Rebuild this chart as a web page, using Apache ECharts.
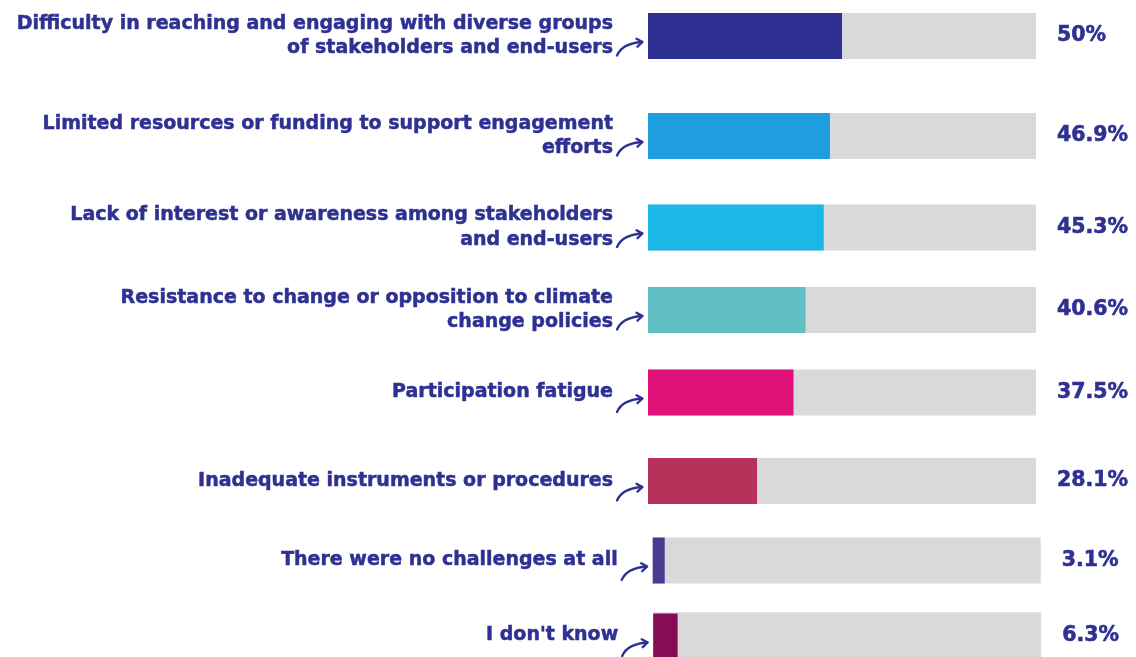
<!DOCTYPE html>
<html>
<head>
<meta charset="utf-8">
<script src="https://cdn.jsdelivr.net/npm/echarts/dist/echarts.min.js"></script>
<style>
  html, body { margin: 0; padding: 0; background: #ffffff; }
  #chart { width: 1136px; height: 657px; }
</style>
</head>
<body>
<div id="chart"></div>
<script>
// Survey answers: challenges faced when engaging stakeholders and end-users
const categories = [
  'Difficulty in reaching and engaging with diverse groups\nof stakeholders and end-users',
  'Limited resources or funding to support engagement\nefforts',
  'Lack of interest or awareness among stakeholders\nand end-users',
  'Resistance to change or opposition to climate\nchange policies',
  'Participation fatigue',
  'Inadequate instruments or procedures',
  'There were no challenges at all',
  "I don't know"
];
const values = [50, 46.9, 45.3, 40.6, 37.5, 28.1, 3.1, 6.3];
const barColors = ['#2e3192', '#1f9de1', '#1ab7e7', '#5fbfc4', '#de1278', '#b8315a', '#4b3c93', '#880b57'];

// Row layout (one small grid per answer)
const rowTops = [13, 113, 204.5, 287, 369.5, 458, 537.5, 613.5];
const rowLefts = [648, 648, 648, 648, 648, 648, 652.7, 653.2];
const rowWidth = 388;
const rowHeight = 46;

const ink = '#2e3192';
const fontFamily = '"DejaVu Sans", sans-serif';
const strokeStyle = { fill: null, stroke: ink, lineWidth: 2.3, lineCap: 'round', lineJoin: 'round' };

// Hand-drawn style pointer between an answer and its bar
function pointer(x, y) {
  return {
    type: 'group', x, y, silent: true,
    children: [
      { type: 'bezierCurve', shape: { x1: 1, y1: 17, cpx1: 4, cpy1: 10, cpx2: 11, cpy2: 4.5, x2: 26, y2: 3.5 }, style: strokeStyle },
      { type: 'polyline', shape: { points: [[20.5, 0.2], [26.5, 3.5], [21.5, 8.2]] }, style: strokeStyle }
    ]
  };
}

const grid = [], xAxis = [], yAxis = [], series = [], graphic = [];
values.forEach((val, i) => {
  grid.push({ left: rowLefts[i], top: rowTops[i], width: rowWidth, height: rowHeight });
  xAxis.push({ gridIndex: i, type: 'value', min: 0, max: 100, show: false });
  yAxis.push({
    gridIndex: i, type: 'category', data: [categories[i]],
    axisLine: { show: false }, axisTick: { show: false },
    axisLabel: {
      margin: 35, align: 'right', color: ink, fontFamily,
      fontWeight: 'bold', fontSize: 19, lineHeight: 24.5,
      textBorderColor: ink, textBorderWidth: 0.5
    }
  });
  yAxis.push({
    gridIndex: i, type: 'category', position: 'right', data: [val + '%'],
    axisLine: { show: false }, axisTick: { show: false },
    axisLabel: {
      margin: 21, color: ink, fontFamily, fontWeight: 'bold', fontSize: 20.5,
      textBorderColor: ink, textBorderWidth: 0.6
    }
  });
  series.push({
    type: 'bar', xAxisIndex: i, yAxisIndex: 2 * i, data: [val],
    barWidth: rowHeight, showBackground: true,
    backgroundStyle: { color: '#d9d9d9' },
    itemStyle: { color: barColors[i] },
    silent: true
  });
  graphic.push(pointer(rowLefts[i] - 32, rowTops[i] + rowHeight / 2 + 2.5));
});

const chart = echarts.init(document.getElementById('chart'));
chart.setOption({ animation: false, grid, xAxis, yAxis, series, graphic });
</script>
</body>
</html>
